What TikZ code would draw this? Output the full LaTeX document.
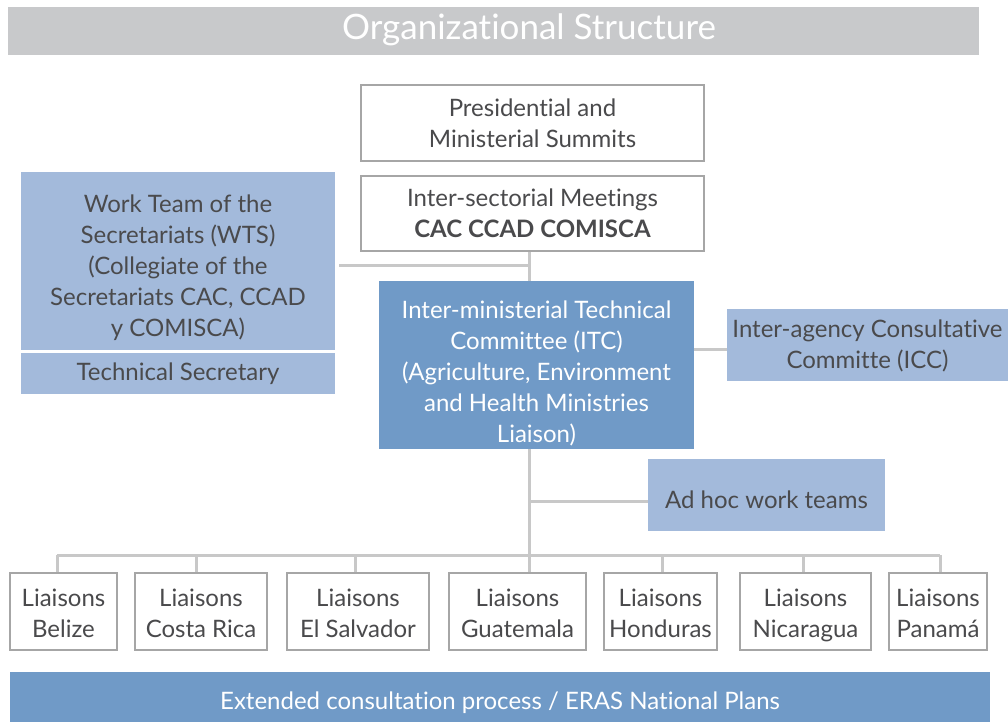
\documentclass[tikz,border=0pt]{standalone}
\usepackage{fontspec}
\setmainfont[Ligatures=CommonOff]{Lato}
\definecolor{txt}{HTML}{4A4A4C}
\definecolor{lblue}{HTML}{A3BADB}
\definecolor{dblue}{HTML}{709AC7}
\definecolor{tgray}{HTML}{C8C9CB}
\definecolor{bordergray}{HTML}{A6A6A6}
\definecolor{linegray}{HTML}{C8C8C8}
\newcommand{\lift}[1]{\rule{0pt}{#1pt}}
\newcommand{\sink}{\rule[-6pt]{0pt}{6pt}}
\begin{document}
\begin{tikzpicture}[x=1pt,y=-1pt,
  base/.style={rectangle, inner sep=0pt, align=center, text=txt,
    font=\fontsize{24}{31}\selectfont},
  wbox/.style={base, fill=white, draw=bordergray, line width=2.5pt},
  lbox/.style={base, fill=lblue},
  dbox/.style={base, fill=dblue, text=white},
  conn/.style={draw=linegray, line width=3pt}]
\useasboundingbox (0,0) rectangle (1008,721);
\clip (0,0) rectangle (1008,721);
% title
\node[base, fill=tgray, minimum width=971pt, minimum height=48pt] (title) at (493.5,31) {};
\node[base, text=white, font=\fontsize{35}{40}\selectfont] (titletext) at (529,30) {Organizational Structure};
% top boxes
\node[wbox, minimum width=343pt, minimum height=76pt] (pres) at (532.5,123)
  {Presidential and\\Ministerial Summits};
\node[wbox, minimum width=343pt, minimum height=75pt] (inter) at (532.5,213.5)
  {Inter-sectorial Meetings\\\textbf{CAC CCAD COMISCA}};
\node[lbox, minimum width=314pt, minimum height=178pt] (wts) at (178,261)
  {\lift{31}Work Team of the\\Secretariats (WTS)\\(Collegiate of the\\Secretariats CAC, CCAD\\y COMISCA)};
\node[lbox, minimum width=314pt, minimum height=41pt] (tech) at (178,373.5)
  {Technical Secretary};
\node[dbox, minimum width=315pt, minimum height=168pt] (itc) at (536.5,365)
  {\lift{35}Inter-ministerial Technical\\Committee (ITC)\\(Agriculture, Environment\\and Health Ministries\\Liaison)};
\node[lbox, minimum width=281pt, minimum height=72pt] (icc) at (867.5,345)
  {\lift{20}Inter-agency Consultative\\Committe (ICC)};
\node[lbox, minimum width=237pt, minimum height=72pt] (adhoc) at (766.5,495)
  {\lift{27}Ad hoc work teams};
% liaisons
\foreach \n/\x/\w/\t in {belize/63.5/107/Belize, costa/201/132/Costa Rica,
  salv/358/142/El Salvador, guat/517.5/137/Guatemala, hond/660.5/113/Honduras,
  nica/805.5/131/Nicaragua, pana/938/98/Panamá}
  \node[wbox, minimum width=\w pt, minimum height=77pt] (\n) at (\x,611.5) {\lift{27}Liaisons\\\t\sink};
% bottom bar
\node[dbox, minimum width=980pt, minimum height=56pt] (bar) at (500,700) {};
\node[base, text=white] (bartext) at (500,703)
  {Extended consultation process / ERAS National Plans};
% connectors
\coordinate (j1) at (529,265);
\coordinate (j2) at (529,501);
\coordinate (bus) at (529,555);
\draw[conn] ([xshift=4pt]wts.east |- j1) -- (j1);
\draw[conn] (j1 |- inter.south) -- (j1 |- itc.north);
\draw[conn] (itc.east |- 0,349) -- (icc.west |- 0,349);
\draw[conn] (j1 |- itc.south) -- (j1 |- guat.north);
\draw[conn] (j2) -- (j2 -| adhoc.west);
\draw[conn] ([xshift=-6.5pt]belize.north |- bus) -- ([xshift=2pt]pana.north |- bus);
\draw[conn] ([xshift=-6.5pt]belize.north |- bus) -- ([xshift=-6.5pt]belize.north);
\draw[conn] ([xshift=-5pt]costa.north |- bus) -- ([xshift=-5pt]costa.north);
\draw[conn] ([xshift=-3pt]salv.north |- bus) -- ([xshift=-3pt]salv.north);
\draw[conn] ([xshift=1.5pt]hond.north |- bus) -- ([xshift=1.5pt]hond.north);
\draw[conn] ([xshift=-2.5pt]nica.north |- bus) -- ([xshift=-2.5pt]nica.north);
\draw[conn] ([xshift=2pt]pana.north |- bus) -- ([xshift=2pt]pana.north);
\end{tikzpicture}
\end{document}
